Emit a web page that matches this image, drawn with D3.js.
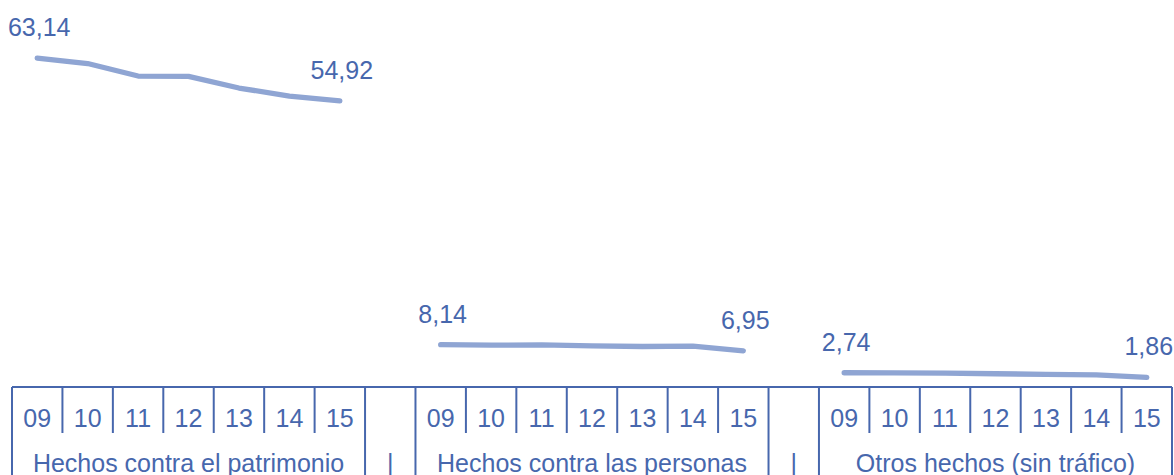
<!DOCTYPE html>
<html>
<head>
<meta charset="utf-8">
<script src="https://cdn.jsdelivr.net/npm/d3@7"></script>
<style>
  html, body { margin: 0; padding: 0; background: #ffffff; }
  svg { display: block; }
  text { font-family: "Liberation Sans", Arial, sans-serif; }
</style>
</head>
<body>
<svg id="chart" width="1174" height="475"></svg>
<script>
// ---- Data ----
const years = ["09", "10", "11", "12", "13", "14", "15"];
const groups = ["Hechos contra el patrimonio", "Hechos contra las personas", "Otros hechos (sin tráfico)"];
const gapLabel = "|";
const patrimonio = [63.14, 62.10, 59.70, 59.65, 57.40, 55.85, 54.92];
const personas = [8.14, 8.04, 8.08, 7.90, 7.78, 7.86, 6.95];
const otros = [2.74, 2.71, 2.66, 2.54, 2.44, 2.34, 1.86];
const seriesValues = [patrimonio, personas, otros];
const valueLabels = [["63,14", "54,92"], ["8,14", "6,95"], ["2,74", "1,86"]];

// ---- Layout ----
const W = 1174, H = 475;
const left = 12, right = 1172;
const axisY = 387;
const fontSize = 25;
const textColor = "#4767ad";
const lineColor = "#8fa5d3";

const svg = d3.select("#chart");

// build slot keys: 7 years per group + 1 gap between groups
const slots = [];
groups.forEach((g, gi) => {
  years.forEach(y => slots.push({key: gi + "-" + y, group: gi, year: y, gap: false}));
  if (gi < groups.length - 1) slots.push({key: "gap-" + gi, group: gi, gap: true});
});

const x = d3.scaleBand().domain(slots.map(s => s.key)).range([left, right]).paddingInner(0).paddingOuter(0);
const bw = x.bandwidth();
const y = d3.scaleLinear().domain([0, 74.3]).range([axisY, 0]);

// ---- Lines ----
const line = d3.line()
  .x(d => x(d.key) + bw / 2)
  .y(d => y(d.v));

seriesValues.forEach((vals, gi) => {
  const pts = vals.map((v, i) => ({key: gi + "-" + years[i], v}));
  svg.append("path")
    .datum(pts)
    .attr("d", line)
    .attr("fill", "none")
    .attr("stroke", lineColor)
    .attr("stroke-width", 5.3)
    .attr("stroke-linecap", "round")
    .attr("stroke-linejoin", "round");

  // labels at first and last point
  [0, vals.length - 1].forEach((idx, li) => {
    svg.append("text")
      .attr("x", x(pts[idx].key) + bw / 2 + 2)
      .attr("y", y(pts[idx].v) - 22)
      .attr("text-anchor", "middle")
      .attr("font-size", fontSize)
      .attr("fill", textColor)
      .text(valueLabels[gi][li]);
  });
});

// ---- Category axis ----
const ax = svg.append("g").attr("stroke", textColor).attr("stroke-width", 2);
ax.append("line").attr("x1", left).attr("x2", right).attr("y1", axisY).attr("y2", axisY);

// separators
slots.forEach((s, i) => {
  const xs = x(s.key);
  const prev = slots[i - 1];
  const full = i === 0 || s.gap || (prev && prev.gap);
  ax.append("line")
    .attr("x1", xs).attr("x2", xs)
    .attr("y1", axisY).attr("y2", full ? H : 433);
});
ax.append("line").attr("x1", right).attr("x2", right).attr("y1", axisY).attr("y2", H);

// year labels
svg.append("g").selectAll("text")
  .data(slots.filter(s => !s.gap))
  .join("text")
  .attr("x", d => x(d.key) + bw / 2)
  .attr("y", 427)
  .attr("text-anchor", "middle")
  .attr("font-size", fontSize)
  .attr("fill", textColor)
  .text(d => d.year);

// group labels
groups.forEach((g, gi) => {
  const x0 = x(gi + "-" + years[0]);
  const x1 = x(gi + "-" + years[years.length - 1]) + bw;
  svg.append("text")
    .attr("x", (x0 + x1) / 2)
    .attr("y", 472)
    .attr("text-anchor", "middle")
    .attr("font-size", fontSize)
    .attr("fill", textColor)
    .text(g);
});

// gap labels
slots.filter(s => s.gap).forEach(s => {
  svg.append("text")
    .attr("x", x(s.key) + bw / 2)
    .attr("y", 472)
    .attr("text-anchor", "middle")
    .attr("font-size", fontSize)
    .attr("fill", textColor)
    .text(gapLabel);
});
</script>
</body>
</html>
